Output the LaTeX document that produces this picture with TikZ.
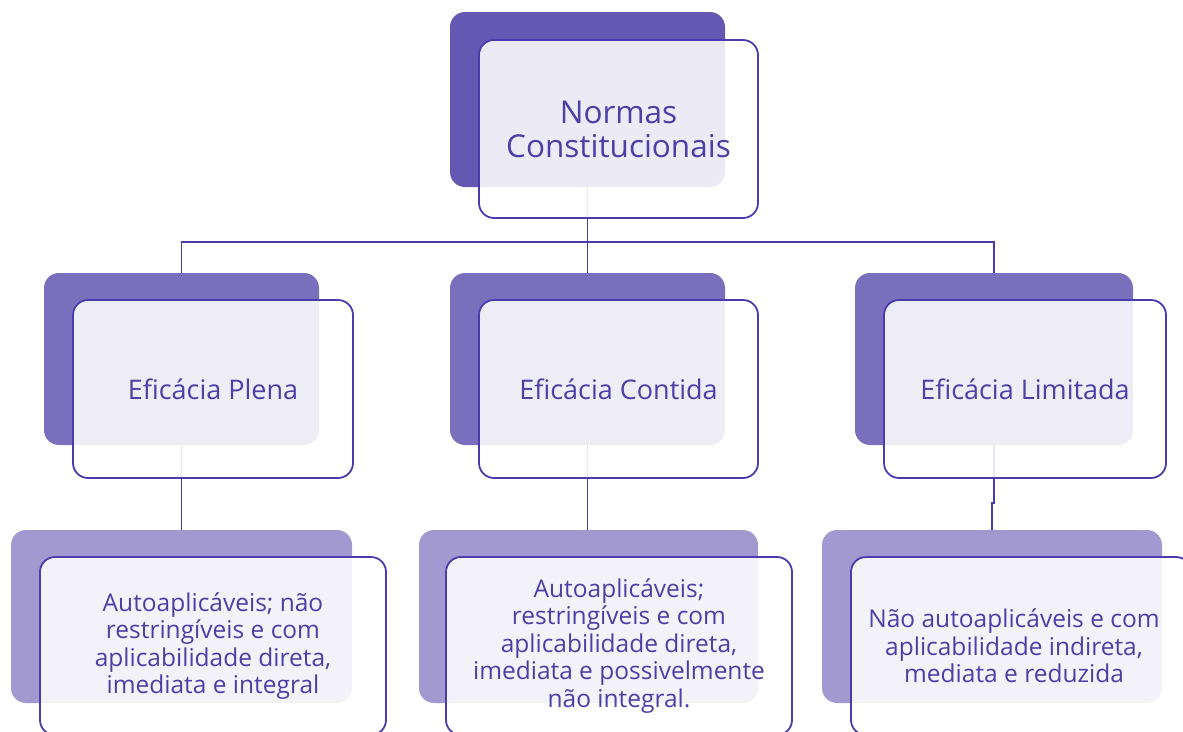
\documentclass[tikz,border=0pt]{standalone}
\usepackage{fontspec}
\setmainfont{Open Sans}
\usepackage{tikz}

\definecolor{backtop}{HTML}{6558B3}
\definecolor{backmid}{HTML}{7A6FBD}
\definecolor{backlow}{HTML}{A199D0}
\definecolor{edgecol}{HTML}{4B3BAF}
\definecolor{textcol}{HTML}{4C3FA6}

\tikzset{
  backbox/.style={rounded corners=15pt, inner sep=0pt, draw=none},
  frontbox/.style={rounded corners=15pt, inner sep=0pt, draw=edgecol, line width=1.8pt,
    fill=white, fill opacity=0.88, text opacity=1, text=textcol, align=center,
    minimum width=279pt, minimum height=178pt},
  link/.style={draw=edgecol, line width=1.8pt},
  toptext/.style={font=\fontsize{31.5}{34}\selectfont},
  midtext/.style={font=\fontsize{27}{30}\selectfont},
  lowtext/.style={font=\fontsize{24.5}{27.5}\selectfont}
}

\begin{document}
\begin{tikzpicture}[x=1pt,y=-1pt]
\useasboundingbox (0,0) rectangle (1183,731);

% back boxes
\node[backbox, fill=backtop, minimum width=275pt, minimum height=175pt] (normsb) at (587.5,99.5) {};
\node[backbox, fill=backmid, minimum width=275pt, minimum height=172pt] (plenab) at (181.5,359) {};
\node[backbox, fill=backmid, minimum width=275pt, minimum height=172pt] (contidab) at (587.5,359) {};
\node[backbox, fill=backmid, minimum width=278pt, minimum height=172pt] (limitadab) at (994,359) {};
\node[backbox, fill=backlow, minimum width=341pt, minimum height=173pt] (plenadb) at (181.5,616.5) {};
\node[backbox, fill=backlow, minimum width=339pt, minimum height=173pt] (contidadb) at (588.5,616.5) {};
\node[backbox, fill=backlow, minimum width=340pt, minimum height=173pt] (limitadadb) at (992,616.5) {};

% connectors
\draw[link] (normsb.south) -- ++(0,55) coordinate (hub) -| (plenab.north);
\draw[link] (hub) -| (limitadab.north);
\draw[link] (hub) -- (contidab.north);
\draw[link] (plenab.south) -- (plenab.south |- plenadb.north);
\draw[link] (contidab.south) -- (contidab.south |- contidadb.north);
\draw[link] (limitadab.south) -- ++(0,58) -| (limitadadb.north);

% front boxes
\node[frontbox, toptext] (norms) at (618.5,129) {Normas\\Constitucionais};
\node[frontbox, midtext, minimum width=280pt] (plena) at (213,389) {Eficácia Plena};
\node[frontbox, midtext] (contida) at (618.5,389) {Eficácia Contida};
\node[frontbox, midtext, minimum width=282pt] (limitada) at (1025,389) {Eficácia Limitada};
\node[frontbox, lowtext, minimum width=346pt] (plenad) at (213,646)
  {Autoaplicáveis; não\\restringíveis e com\\aplicabilidade direta,\\imediata e integral};
\node[frontbox, lowtext, minimum width=346pt] (contidad) at (619,646)
  {Autoaplicáveis;\\restringíveis e com\\aplicabilidade direta,\\imediata e possivelmente\\não integral.};
\node[frontbox, lowtext, minimum width=340pt] (limitadad) at (1021,646)
  {\hspace*{-14pt}Não autoaplicáveis e com\\\hspace*{-14pt}aplicabilidade indireta,\\\hspace*{-14pt}mediata e reduzida};
\end{tikzpicture}
\end{document}
